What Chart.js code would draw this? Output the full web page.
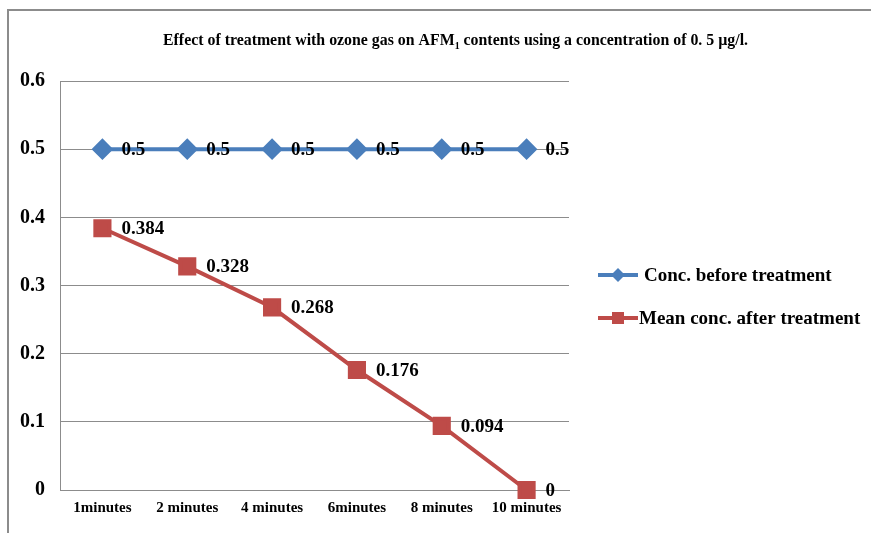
<!DOCTYPE html>
<html>
<head>
<meta charset="utf-8">
<script src="https://cdn.jsdelivr.net/npm/chart.js@4/dist/chart.umd.min.js"></script>
<style>
  html, body { margin: 0; padding: 0; background: #fff; }
  #wrap { width: 871px; height: 533px; position: relative; }
</style>
</head>
<body>
<div id="wrap"><canvas id="grafico"></canvas></div>
<script>
// Datos del gráfico
const categorias = ['1minutes', '2 minutes', '4 minutes', '6minutes', '8 minutes', '10 minutes'];
const antesTratamiento = [0.5, 0.5, 0.5, 0.5, 0.5, 0.5];
const despuesTratamiento = [0.384, 0.328, 0.268, 0.176, 0.094, 0];
const nombresSeries = ['Conc. before treatment', 'Mean conc. after treatment'];
const tituloPartes = ['Effect of treatment with ozone gas on AFM', '1', ' contents using a concentration of 0. 5 \u00b5g/l.'];

const AZUL = '#4a7ebb';
const ROJO = '#be4b48';
const GRIS = '#8c8c8c';
const FUENTE = '"Liberation Serif", "Times New Roman", serif';

// Marco, título y leyenda dibujados a mano
const pluginDecoracion = {
  id: 'decoracion',
  beforeDraw(chart) {
    const ctx = chart.ctx;
    ctx.save();
    ctx.fillStyle = GRIS;
    ctx.fillRect(7, 9, 871 - 7, 2);
    ctx.fillRect(7, 9, 2, 533 - 9);
    ctx.restore();
  },
  afterDraw(chart) {
    const ctx = chart.ctx;
    ctx.save();
    ctx.fillStyle = '#000';
    ctx.textBaseline = 'alphabetic';

    // Título (con subíndice), comprimido al ancho del original
    const fGrande = 'bold 16px ' + FUENTE;
    const fSub = 'bold 10px ' + FUENTE;
    ctx.font = fGrande;
    const w1 = ctx.measureText(tituloPartes[0]).width;
    const w3 = ctx.measureText(tituloPartes[2]).width;
    ctx.font = fSub;
    const w2 = ctx.measureText(tituloPartes[1]).width;
    const total = w1 + w2 + w3;
    const escala = 585 / total;
    ctx.translate(163, 45);
    ctx.scale(escala, 1);
    ctx.font = fGrande;
    ctx.fillText(tituloPartes[0], 0, 0);
    ctx.font = fSub;
    ctx.fillText(tituloPartes[1], w1, 4);
    ctx.font = fGrande;
    ctx.fillText(tituloPartes[2], w1 + w2, 0);
    ctx.setTransform(1, 0, 0, 1, 0, 0);

    // Leyenda
    const items = [
      { color: AZUL, estilo: 'diamante', y: 275, texto: nombresSeries[0], tx: 644 },
      { color: ROJO, estilo: 'cuadro', y: 318, texto: nombresSeries[1], tx: 639 }
    ];
    items.forEach(it => {
      ctx.strokeStyle = it.color;
      ctx.lineWidth = 4;
      ctx.beginPath();
      ctx.moveTo(598, it.y);
      ctx.lineTo(638, it.y);
      ctx.stroke();
      ctx.fillStyle = it.color;
      ctx.beginPath();
      if (it.estilo === 'diamante') {
        ctx.moveTo(618 - 7, it.y);
        ctx.lineTo(618, it.y - 7);
        ctx.lineTo(618 + 7, it.y);
        ctx.lineTo(618, it.y + 7);
        ctx.closePath();
      } else {
        ctx.rect(618 - 6, it.y - 6, 12, 12);
      }
      ctx.fill();
      ctx.fillStyle = '#000';
      ctx.font = 'bold 19px ' + FUENTE;
      ctx.textBaseline = 'middle';
      ctx.fillText(it.texto, it.tx, it.y + 1);
    });
    ctx.restore();
  }
};

// Etiquetas de valores junto a cada punto
const pluginEtiquetas = {
  id: 'etiquetas',
  afterDatasetsDraw(chart) {
    const ctx = chart.ctx;
    ctx.save();
    ctx.font = 'bold 19px ' + FUENTE;
    ctx.fillStyle = '#000';
    ctx.textBaseline = 'middle';
    ctx.textAlign = 'left';
    chart.data.datasets.forEach((ds, i) => {
      const meta = chart.getDatasetMeta(i);
      meta.data.forEach((pt, j) => {
        ctx.fillText(String(ds.data[j]), pt.x + 19, pt.y + 1);
      });
    });
    ctx.restore();
  }
};

new Chart(document.getElementById('grafico'), {
  type: 'line',
  data: {
    labels: categorias,
    datasets: [
      {
        label: nombresSeries[0],
        data: antesTratamiento,
        borderColor: AZUL,
        backgroundColor: AZUL,
        borderWidth: 4,
        pointStyle: 'rectRot',
        pointRadius: 8,
        pointHoverRadius: 8,
        tension: 0,
        clip: false
      },
      {
        label: nombresSeries[1],
        data: despuesTratamiento,
        borderColor: ROJO,
        backgroundColor: ROJO,
        borderWidth: 4,
        pointStyle: 'rect',
        pointRadius: 10,
        pointHoverRadius: 10,
        tension: 0,
        clip: false
      }
    ]
  },
  options: {
    responsive: true,
    maintainAspectRatio: false,
    animation: false,
    layout: { padding: { top: 81, right: 302, bottom: 0, left: 0 } },
    plugins: {
      legend: { display: false },
      title: { display: false },
      tooltip: { enabled: false }
    },
    scales: {
      x: {
        offset: true,
        grid: { display: false, drawTicks: false, tickLength: 0 },
        border: { display: true, color: GRIS, width: 1 },
        ticks: {
          color: '#000',
          padding: 9,
          maxRotation: 0,
          autoSkip: false,
          font: { family: FUENTE, size: 15, weight: 'bold' }
        },
        afterFit(scale) { scale.height = 43; }
      },
      y: {
        min: 0,
        max: 0.6,
        grid: { color: GRIS, drawTicks: false, tickLength: 0 },
        border: { display: true, color: GRIS, width: 1 },
        ticks: {
          stepSize: 0.1,
          color: '#000',
          padding: 15,
          font: { family: FUENTE, size: 20, weight: 'bold' },
          callback: v => (v === 0 ? '0' : v.toFixed(1))
        },
        afterFit(scale) { scale.width = 60; }
      }
    }
  },
  plugins: [pluginDecoracion, pluginEtiquetas]
});
</script>
</body>
</html>
